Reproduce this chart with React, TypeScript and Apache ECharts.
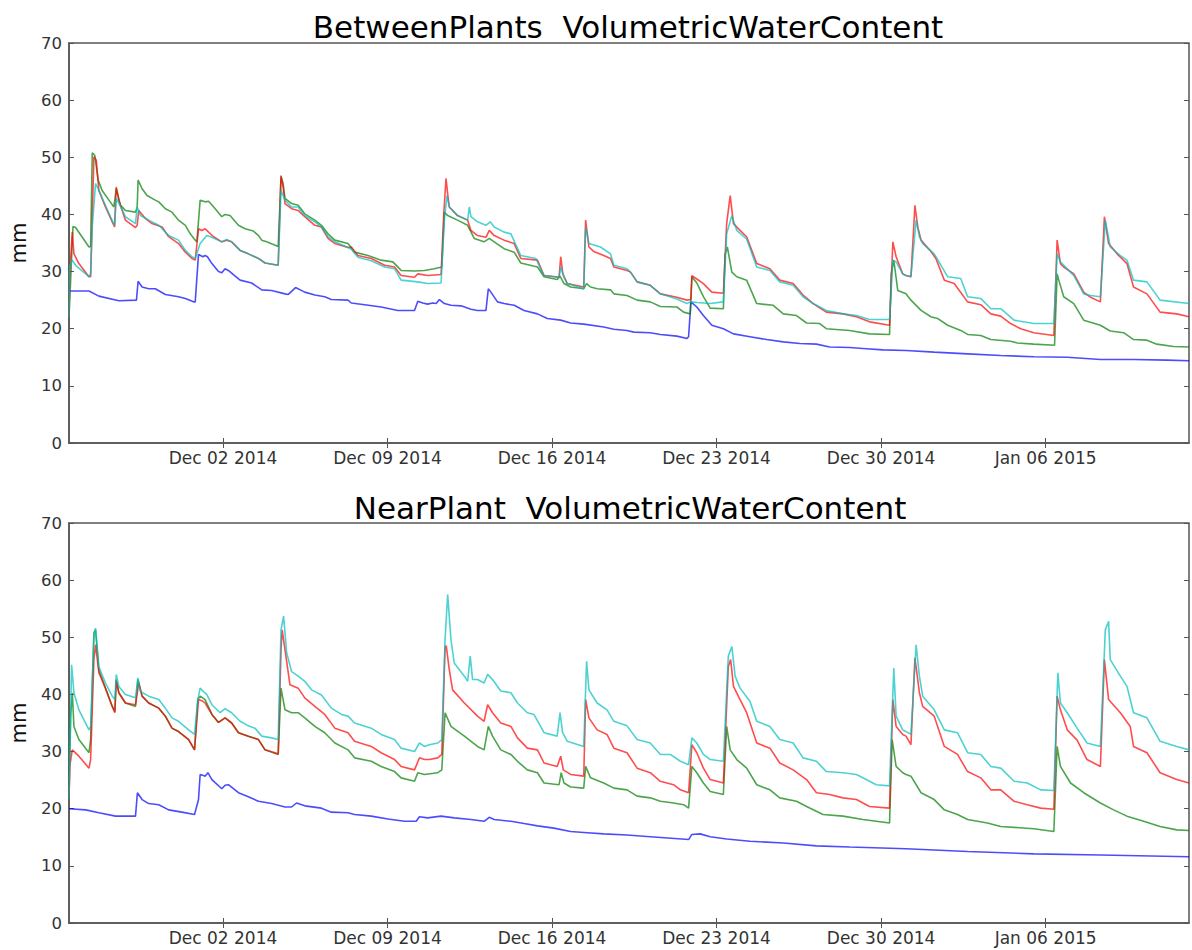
import React, { useEffect, useRef } from "react";
import * as echarts from "echarts";

// x values are days since Nov 25 2014 00:00
const xMin = 0.45;
const xMax = 48.1;
const xTickDays = [7, 14, 21, 28, 35, 42];
const xTickLabels = ["Dec 02 2014", "Dec 09 2014", "Dec 16 2014", "Dec 23 2014", "Dec 30 2014", "Jan 06 2015"];
const yTicks = [0, 10, 20, 30, 40, 50, 60, 70];

const titles = ["BetweenPlants  VolumetricWaterContent", "NearPlant  VolumetricWaterContent"];
const yLabel = "mm";

const topBlue = [[0.45,26.6],[1.30,26.6],[1.72,25.7],[2.57,24.9],[3.32,25.0],[3.39,28.3],[3.56,27.3],[3.84,27.0],[4.12,27.0],[4.55,26.0],[5.11,25.6],[5.40,25.3],[5.75,24.7],[5.82,24.7],[5.96,33.0],[6.15,32.6],[6.24,32.8],[6.34,32.6],[6.53,31.4],[6.81,30.0],[6.95,29.8],[7.09,30.5],[7.23,30.2],[7.52,29.2],[7.73,28.5],[8.22,28.0],[8.65,26.8],[9.07,26.7],[9.64,26.1],[9.78,26.0],[10.09,27.2],[10.48,26.4],[10.91,25.9],[11.33,25.6],[11.61,25.1],[12.32,25.0],[12.46,24.5],[13.03,24.2],[13.73,23.8],[14.44,23.2],[15.15,23.2],[15.29,24.8],[15.50,24.5],[15.71,24.3],[15.92,24.5],[16.07,24.4],[16.21,25.1],[16.42,24.4],[16.70,24.1],[17.13,24.0],[17.55,23.4],[17.83,23.2],[18.19,23.2],[18.29,27.0],[18.40,26.4],[18.68,24.7],[18.96,24.4],[19.39,24.1],[19.81,23.2],[20.38,22.6],[20.80,21.8],[21.37,21.5],[21.79,21.0],[22.35,20.8],[23.20,20.3],[23.63,19.9],[24.19,19.7],[24.48,19.4],[25.18,19.3],[25.61,19.0],[26.31,18.7],[26.74,18.3],[26.81,18.6],[26.91,24.7],[27.16,23.8],[27.44,22.3],[27.80,20.6],[28.29,20.0],[28.72,19.1],[29.42,18.6],[30.13,18.1],[30.84,17.7],[31.54,17.4],[32.25,17.3],[32.81,16.8],[33.66,16.7],[34.37,16.5],[35.08,16.3],[36.06,16.2],[37.26,15.9],[38.68,15.6],[40.09,15.3],[41.50,15.1],[42.92,15.0],[44.33,14.6],[45.74,14.6],[47.16,14.5],[48.1,14.4]];

const topGreen = [[0.45,22.0],[0.62,37.9],[0.73,37.7],[1.30,34.3],[1.37,34.4],[1.44,50.8],[1.55,50.3],[1.69,46.0],[1.86,44.2],[2.15,42.5],[2.36,41.3],[2.46,44.5],[2.64,41.6],[2.85,40.7],[3.28,40.4],[3.35,41.3],[3.39,46.0],[3.56,44.5],[3.77,43.3],[4.12,42.5],[4.27,42.2],[4.55,41.0],[4.83,40.4],[5.11,39.0],[5.40,38.1],[5.61,36.6],[5.82,35.5],[5.89,35.2],[6.03,42.5],[6.24,42.2],[6.39,42.3],[6.67,41.0],[6.95,39.6],[7.09,40.0],[7.30,39.8],[7.66,38.1],[7.94,37.5],[8.29,37.1],[8.51,36.3],[8.65,35.5],[8.86,35.2],[9.35,34.4],[9.38,34.4],[9.47,46.6],[9.56,45.4],[9.64,42.8],[9.92,41.9],[10.20,41.6],[10.48,40.1],[10.91,39.0],[11.19,38.1],[11.47,36.6],[11.76,35.5],[12.32,34.9],[12.60,33.4],[13.17,32.8],[13.73,32.0],[14.23,31.7],[14.58,30.2],[15.15,30.1],[15.57,30.2],[15.99,30.5],[16.31,30.8],[16.42,40.4],[16.56,39.8],[16.98,39.0],[17.41,38.1],[17.69,35.8],[18.11,35.2],[18.33,35.8],[18.54,35.2],[18.96,34.0],[19.39,33.4],[19.67,31.5],[20.38,30.8],[20.66,29.1],[21.22,28.6],[21.34,29.2],[21.51,27.9],[21.79,27.3],[22.35,27.0],[22.47,27.9],[22.64,27.3],[22.92,27.0],[23.49,26.8],[23.63,26.1],[24.19,25.8],[24.62,25.0],[25.18,24.7],[25.61,23.9],[26.31,23.8],[26.60,22.9],[26.88,22.6],[26.95,29.1],[27.16,28.0],[27.44,25.6],[27.73,23.6],[28.29,23.5],[28.36,33.0],[28.46,34.3],[28.65,29.9],[28.86,29.1],[29.28,28.5],[29.71,24.4],[30.41,24.1],[30.84,22.6],[31.40,22.3],[31.83,21.0],[32.39,20.9],[32.67,20.0],[33.66,19.7],[34.51,19.1],[35.36,19.0],[35.43,29.6],[35.54,32.0],[35.71,26.7],[36.06,26.1],[36.27,25.0],[36.70,23.2],[37.12,22.1],[37.40,21.8],[37.83,20.6],[38.39,19.7],[38.68,19.0],[39.24,18.8],[39.67,18.1],[40.51,17.8],[40.80,17.5],[41.50,17.3],[42.38,17.1],[42.49,29.6],[42.56,28.5],[42.77,25.6],[43.20,24.4],[43.62,21.5],[44.33,20.6],[44.75,19.6],[45.32,19.3],[45.74,18.1],[46.31,18.0],[46.73,17.3],[47.44,16.9],[48.1,16.8]];

const topRed = [[0.45,22.0],[0.48,29.6],[0.59,36.9],[0.66,33.1],[0.87,31.4],[1.30,29.1],[1.37,29.1],[1.51,50.1],[1.61,49.5],[1.72,44.2],[2.00,41.3],[2.29,38.7],[2.39,37.8],[2.46,44.8],[2.57,42.5],[2.85,39.0],[3.28,37.7],[3.35,38.1],[3.42,40.7],[3.70,39.3],[3.98,38.4],[4.41,37.8],[4.69,36.1],[5.11,34.9],[5.40,33.4],[5.68,32.3],[5.82,32.0],[5.96,37.5],[6.10,37.2],[6.24,37.5],[6.39,36.9],[6.60,36.1],[6.95,35.2],[7.16,35.5],[7.37,35.2],[7.73,33.7],[8.08,33.1],[8.51,32.3],[8.79,31.5],[9.35,31.1],[9.38,31.1],[9.47,46.8],[9.56,44.8],[9.64,41.9],[9.92,41.0],[10.20,40.7],[10.48,39.6],[10.91,38.1],[11.19,37.8],[11.47,35.8],[11.76,34.9],[12.32,34.2],[12.46,34.3],[12.74,32.8],[13.31,32.3],[13.88,31.1],[14.30,30.8],[14.58,29.3],[15.15,29.0],[15.29,29.6],[15.71,29.3],[16.28,29.5],[16.39,39.8],[16.49,46.3],[16.56,43.6],[16.63,41.3],[16.98,39.8],[17.41,39.0],[17.55,37.2],[17.83,36.3],[18.19,36.0],[18.33,37.2],[18.54,36.3],[18.96,35.5],[19.39,34.9],[19.67,32.3],[20.38,32.0],[20.66,29.3],[21.30,29.0],[21.37,32.6],[21.46,29.6],[21.65,27.9],[22.35,27.3],[22.43,39.0],[22.57,34.3],[22.78,33.5],[23.20,32.8],[23.49,32.3],[23.63,30.8],[24.19,30.2],[24.34,29.9],[24.62,28.2],[25.18,27.6],[25.61,26.1],[26.31,25.5],[26.74,25.0],[26.91,25.1],[26.95,29.3],[27.16,28.7],[27.44,27.9],[27.80,26.4],[28.29,26.2],[28.43,38.4],[28.58,43.3],[28.72,38.4],[29.00,37.2],[29.28,36.1],[29.71,31.4],[30.27,30.5],[30.69,28.5],[31.26,27.9],[31.68,25.9],[32.11,24.4],[32.67,22.9],[33.38,22.6],[33.95,22.1],[34.51,21.2],[35.36,20.6],[35.50,35.2],[35.64,32.6],[35.92,29.6],[36.06,29.3],[36.27,29.1],[36.44,41.6],[36.56,37.8],[36.70,35.5],[37.12,33.5],[37.33,32.3],[37.69,28.5],[38.11,27.9],[38.68,24.7],[39.24,24.2],[39.67,22.6],[40.09,22.2],[40.51,20.9],[40.94,20.0],[41.50,19.3],[42.35,18.8],[42.49,35.5],[42.63,31.4],[42.77,30.8],[43.20,29.6],[43.62,26.4],[43.91,25.5],[44.33,24.7],[44.50,39.6],[44.68,34.9],[45.04,33.1],[45.46,31.4],[45.74,27.3],[46.31,26.1],[46.87,22.9],[47.58,22.6],[48.1,22.1]];

const topCyan = [[0.45,22.0],[0.48,31.0],[0.59,32.0],[0.73,31.1],[1.30,29.1],[1.37,29.6],[1.44,38.0],[1.58,45.4],[1.72,44.2],[2.00,41.6],[2.29,38.9],[2.39,38.1],[2.46,42.8],[2.57,42.0],[2.85,39.6],[3.28,38.4],[3.35,41.3],[3.49,39.8],[3.84,39.0],[4.27,38.1],[4.69,36.3],[5.11,35.5],[5.40,33.7],[5.68,32.6],[5.82,32.3],[6.03,34.9],[6.31,36.3],[6.53,36.0],[6.95,35.2],[7.16,35.6],[7.37,35.2],[7.73,33.7],[8.08,33.1],[8.51,32.3],[8.79,31.5],[9.35,31.1],[9.38,31.1],[9.47,44.2],[9.64,42.5],[9.92,41.3],[10.20,41.3],[10.48,39.8],[10.91,38.7],[11.19,37.8],[11.47,36.1],[11.76,35.2],[12.32,34.2],[12.46,33.9],[12.74,32.5],[13.31,31.9],[13.88,30.8],[14.30,30.5],[14.58,28.5],[15.29,28.2],[15.71,27.9],[16.28,28.0],[16.42,39.0],[16.53,43.3],[16.63,41.3],[16.98,39.8],[17.41,39.0],[17.48,41.3],[17.55,39.6],[17.83,38.7],[18.19,38.1],[18.37,38.7],[18.54,37.8],[18.96,36.9],[19.25,36.6],[19.67,32.8],[20.31,32.3],[20.66,29.3],[21.30,29.0],[21.37,30.8],[21.51,29.0],[21.65,27.9],[22.35,27.0],[22.43,37.8],[22.57,34.9],[23.06,34.3],[23.49,33.1],[23.63,31.1],[24.19,30.5],[24.34,29.9],[24.62,28.2],[25.18,27.6],[25.61,26.1],[26.31,25.2],[26.74,24.4],[26.91,24.7],[27.16,24.6],[27.73,24.4],[28.29,24.7],[28.43,36.6],[28.65,39.8],[28.86,37.2],[29.28,35.7],[29.71,30.8],[30.27,30.2],[30.69,28.2],[31.26,27.6],[31.68,25.6],[32.11,24.4],[32.67,23.2],[33.38,22.6],[33.95,22.3],[34.51,21.6],[35.36,21.6],[35.50,32.0],[35.64,31.7],[35.92,29.6],[36.06,29.3],[36.27,29.1],[36.49,39.0],[36.63,36.1],[36.77,34.9],[37.26,33.1],[37.83,29.1],[38.39,28.8],[38.68,25.6],[39.24,25.3],[39.67,23.5],[40.09,23.5],[40.66,21.5],[41.50,20.9],[42.35,20.9],[42.49,33.1],[42.63,31.7],[43.20,29.3],[43.62,26.1],[43.91,25.8],[44.33,25.6],[44.54,39.0],[44.75,34.3],[45.18,32.8],[45.46,32.0],[45.74,28.5],[46.31,28.2],[46.87,25.0],[48.1,24.4]];

const bottomBlue = [[0.45,20.0],[1.16,19.8],[1.72,19.3],[2.43,18.7],[3.28,18.7],[3.36,22.8],[3.56,21.6],[3.84,20.9],[4.27,20.7],[4.69,19.8],[5.25,19.4],[5.79,19.0],[5.96,21.6],[6.03,26.0],[6.17,25.8],[6.24,25.7],[6.36,26.3],[6.53,25.1],[6.95,23.5],[7.09,24.1],[7.23,24.2],[7.66,22.8],[8.08,22.1],[8.51,21.3],[9.07,20.9],[9.64,20.3],[9.92,20.3],[10.13,21.0],[10.48,20.5],[11.19,20.1],[11.61,19.4],[12.32,19.3],[12.60,19.0],[13.31,18.7],[14.02,18.2],[14.72,17.8],[15.22,17.8],[15.36,18.6],[15.71,18.4],[16.28,18.7],[16.84,18.4],[17.55,18.1],[18.11,17.8],[18.33,18.5],[18.54,18.1],[19.25,17.8],[19.81,17.4],[20.38,17.0],[21.08,16.6],[21.79,16.0],[22.50,15.8],[23.20,15.6],[24.19,15.4],[25.18,15.1],[26.81,14.6],[26.95,15.5],[27.30,15.6],[27.73,15.1],[28.43,14.7],[29.42,14.3],[30.84,14.0],[32.25,13.5],[33.66,13.3],[36.06,13.0],[38.68,12.5],[41.50,12.1],[44.33,11.9],[48.1,11.6]];

const bottomCyan = [[0.45,21.6],[0.56,45.2],[0.66,40.3],[0.87,37.3],[1.30,33.8],[1.37,34.4],[1.51,50.2],[1.58,51.6],[1.72,44.9],[2.00,42.0],[2.29,39.7],[2.40,39.1],[2.46,43.5],[2.57,41.4],[2.85,40.0],[3.28,39.4],[3.38,42.9],[3.49,40.5],[3.84,39.7],[4.27,39.1],[4.55,37.6],[4.83,35.9],[5.11,35.3],[5.54,33.8],[5.79,33.0],[5.93,39.1],[6.03,41.1],[6.17,40.5],[6.31,40.0],[6.53,38.2],[6.88,36.8],[7.09,37.5],[7.37,36.8],[7.73,35.3],[8.08,34.5],[8.36,34.1],[8.65,32.7],[9.07,32.4],[9.35,32.1],[9.47,51.3],[9.58,53.7],[9.71,47.3],[9.92,44.0],[10.20,43.2],[10.48,42.3],[10.77,40.8],[11.19,39.9],[11.61,37.6],[12.04,36.5],[12.32,36.2],[12.60,35.0],[13.31,34.1],[13.73,33.0],[14.30,32.1],[14.58,30.6],[15.15,30.0],[15.36,31.5],[15.57,30.9],[15.78,31.2],[16.14,31.5],[16.31,32.1],[16.45,49.6],[16.56,57.5],[16.70,49.6],[16.84,45.5],[17.27,43.2],[17.41,42.3],[17.52,46.7],[17.62,42.6],[17.83,42.6],[18.11,42.0],[18.26,43.5],[18.47,42.6],[18.82,40.6],[19.25,40.3],[19.53,38.5],[19.95,36.8],[20.23,36.5],[20.66,33.3],[21.22,32.7],[21.34,36.8],[21.45,33.3],[21.65,31.8],[22.35,30.9],[22.47,45.8],[22.57,40.8],[22.92,38.5],[23.34,37.3],[23.63,35.3],[24.19,34.5],[24.62,32.1],[25.18,31.5],[25.61,29.5],[26.03,29.5],[26.46,28.3],[26.81,27.7],[26.95,32.4],[27.16,31.5],[27.44,29.5],[27.73,28.6],[28.29,28.3],[28.50,46.7],[28.65,48.4],[28.79,43.2],[29.00,41.1],[29.42,38.8],[29.71,35.3],[30.27,34.4],[30.69,32.1],[31.26,31.5],[31.68,28.9],[32.25,28.3],[32.67,26.5],[33.38,26.3],[33.95,26.0],[34.37,25.1],[34.79,24.2],[35.36,24.0],[35.54,44.6],[35.64,36.2],[35.92,33.8],[36.06,33.5],[36.27,33.0],[36.49,48.7],[36.63,43.2],[36.77,39.7],[37.26,37.3],[37.69,33.8],[38.25,33.3],[38.68,29.8],[39.24,29.5],[39.67,27.4],[40.09,27.1],[40.66,24.8],[41.22,24.5],[41.79,23.3],[42.35,23.2],[42.52,43.8],[42.63,38.5],[42.92,36.8],[43.34,34.1],[43.76,31.5],[44.33,30.9],[44.54,51.3],[44.68,52.8],[44.75,46.1],[45.18,43.2],[45.46,41.4],[45.74,36.8],[46.31,35.9],[46.87,31.8],[47.58,30.9],[48.1,30.3]];

const bottomRed = [[0.45,21.6],[0.48,27.4],[0.59,30.3],[0.87,29.2],[1.30,27.1],[1.37,28.6],[1.51,46.1],[1.58,48.7],[1.72,43.8],[2.00,41.1],[2.29,37.9],[2.40,36.8],[2.46,42.6],[2.57,40.3],[2.85,38.5],[3.28,38.2],[3.42,42.0],[3.56,39.7],[3.84,38.5],[4.27,37.6],[4.55,36.2],[4.83,34.1],[5.11,33.5],[5.54,32.1],[5.79,30.3],[5.96,39.1],[6.15,38.8],[6.24,38.5],[6.53,36.5],[6.81,35.1],[7.09,35.9],[7.37,35.0],[7.66,33.3],[8.08,32.7],[8.51,32.1],[8.79,30.3],[9.35,29.6],[9.47,47.8],[9.52,51.3],[9.64,47.8],[9.85,41.7],[10.20,41.1],[10.48,39.4],[10.91,37.9],[11.33,36.5],[11.76,34.1],[12.32,33.3],[12.60,31.8],[13.31,30.9],[13.73,29.8],[14.30,28.6],[14.58,27.4],[15.15,26.8],[15.36,28.9],[15.57,28.6],[15.78,28.6],[16.14,28.9],[16.31,29.5],[16.45,48.4],[16.50,48.5],[16.63,44.3],[16.77,40.8],[17.27,38.5],[17.83,36.2],[18.11,35.3],[18.26,38.2],[18.47,36.8],[18.82,35.0],[19.25,34.4],[19.53,32.4],[19.95,30.6],[20.38,30.3],[20.66,28.0],[21.22,27.4],[21.37,29.2],[21.48,26.8],[21.79,26.0],[22.35,25.7],[22.43,39.1],[22.57,35.9],[22.92,33.8],[23.34,33.0],[23.63,30.6],[24.19,29.8],[24.62,27.1],[25.18,26.3],[25.61,24.8],[26.17,24.2],[26.46,23.3],[26.81,22.8],[26.95,31.2],[27.16,29.8],[27.44,27.1],[27.73,25.1],[28.29,24.5],[28.50,44.9],[28.60,46.1],[28.72,41.4],[29.00,39.1],[29.28,36.8],[29.71,31.5],[30.27,30.6],[30.69,28.0],[31.26,26.8],[31.83,25.1],[32.25,22.8],[32.81,22.5],[33.38,21.9],[33.95,21.6],[34.51,20.4],[35.36,20.1],[35.50,39.1],[35.64,34.4],[35.92,33.0],[36.06,32.7],[36.27,31.2],[36.44,46.4],[36.63,40.3],[36.77,37.9],[37.26,36.2],[37.69,30.9],[38.25,29.5],[38.68,26.5],[39.24,25.4],[39.67,23.3],[40.09,23.3],[40.66,21.3],[41.22,20.7],[41.79,20.1],[42.35,19.9],[42.49,39.7],[42.63,37.3],[42.92,33.8],[43.34,32.0],[43.76,28.6],[44.33,27.4],[44.50,46.1],[44.68,39.1],[45.18,36.8],[45.60,34.4],[45.74,30.9],[46.31,29.8],[46.87,26.3],[47.58,25.1],[48.1,24.5]];

const bottomGreen = [[0.45,21.6],[0.52,36.2],[0.59,40.3],[0.66,34.4],[0.87,32.1],[1.30,29.8],[1.37,32.1],[1.51,50.8],[1.58,51.3],[1.72,44.3],[2.00,41.1],[2.29,37.9],[2.40,37.0],[2.46,42.3],[2.57,40.3],[2.85,38.5],[3.28,37.9],[3.38,42.6],[3.56,39.7],[3.84,38.5],[4.27,37.6],[4.55,36.2],[4.83,34.1],[5.11,33.5],[5.54,32.1],[5.79,30.3],[5.93,39.1],[6.03,39.7],[6.24,39.1],[6.53,36.5],[6.81,35.1],[7.09,35.9],[7.37,35.0],[7.66,33.3],[8.08,32.7],[8.51,32.1],[8.79,30.3],[9.35,29.5],[9.47,41.1],[9.64,37.3],[9.92,36.8],[10.20,36.8],[10.48,35.9],[10.91,34.4],[11.33,33.3],[11.76,31.5],[12.32,30.3],[12.60,28.9],[13.31,28.3],[13.73,27.4],[14.30,26.5],[14.58,25.4],[15.15,24.8],[15.29,26.3],[15.57,26.0],[16.14,26.3],[16.31,26.8],[16.45,36.8],[16.70,34.4],[17.27,32.7],[17.83,30.9],[18.11,30.3],[18.29,34.4],[18.47,32.7],[18.82,30.3],[19.25,29.5],[19.53,28.3],[19.95,26.8],[20.38,26.3],[20.66,24.5],[21.30,24.2],[21.39,26.3],[21.51,24.5],[21.79,23.8],[22.35,23.6],[22.43,27.4],[22.64,25.4],[23.20,24.5],[23.63,23.6],[24.19,23.3],[24.62,22.2],[25.18,21.9],[25.61,21.3],[26.17,21.0],[26.60,20.7],[26.81,20.1],[26.95,27.4],[27.16,26.3],[27.44,24.5],[27.73,23.0],[28.29,22.5],[28.43,34.4],[28.58,30.3],[28.86,28.6],[29.28,27.1],[29.71,24.2],[30.27,23.3],[30.69,21.9],[31.40,21.3],[31.83,20.4],[32.53,19.0],[33.38,18.7],[34.23,18.1],[35.36,17.5],[35.47,32.1],[35.64,27.4],[35.92,26.3],[36.06,26.0],[36.27,25.7],[36.70,22.8],[37.26,21.6],[37.69,19.8],[38.25,19.0],[38.68,18.1],[39.52,17.5],[40.09,16.9],[41.50,16.5],[42.35,16.0],[42.49,30.9],[42.63,27.4],[43.06,24.5],[43.62,22.8],[44.33,21.0],[44.89,19.8],[45.46,18.7],[46.17,17.8],[46.87,16.9],[47.58,16.3],[48.1,16.2]];

const COLORS = { blue: "#0000ff", green: "#007f00", red: "#ff0000", cyan: "#00bfbf" };
const FONT = "DejaVu Sans";

const GRID_LEFT = 65;
const GRID_W = 1124;
const GRID_H = 400;
const GRID_TOPS = [43, 523];

export default function App() {
  const ref = useRef<HTMLDivElement>(null);

  useEffect(() => {
    if (!ref.current) return;
    const chart = echarts.init(ref.current, null, { renderer: "svg" });

    const grids = GRID_TOPS.map((top) => ({
      left: GRID_LEFT,
      top,
      width: GRID_W,
      height: GRID_H,
      show: true,
      borderColor: "#555",
      borderWidth: 1.5,
      backgroundColor: "transparent",
      containLabel: false,
    }));

    const xAxes: any[] = [];
    const yAxes: any[] = [];
    [0, 1].forEach((g) => {
      xAxes.push({
        type: "value",
        gridIndex: g,
        position: "bottom",
        min: xMin,
        max: xMax,
        axisLine: { show: true, lineStyle: { color: "#555", width: 1.5 } },
        axisTick: { show: true, inside: true, length: 5, customValues: xTickDays, lineStyle: { color: "#555" } },
        axisLabel: {
          show: true,
          customValues: xTickDays,
          formatter: (v: number) => {
            const i = xTickDays.indexOf(Math.round(v));
            return i >= 0 ? xTickLabels[i] : "";
          },
          fontFamily: FONT,
          fontSize: 17,
          color: "#333",
          margin: 6,
        },
        splitLine: { show: false },
      });
      xAxes.push({
        type: "value",
        gridIndex: g,
        position: "top",
        min: xMin,
        max: xMax,
        axisLine: { show: false },
        axisTick: { show: true, inside: true, length: 5, customValues: xTickDays, lineStyle: { color: "#555" } },
        axisLabel: { show: false },
        splitLine: { show: false },
      });
      yAxes.push({
        type: "value",
        gridIndex: g,
        position: "left",
        min: 0,
        max: 70,
        interval: 10,
        name: yLabel,
        nameLocation: "middle",
        nameGap: 40,
        nameRotate: 90,
        nameTextStyle: { fontFamily: FONT, fontSize: 21, color: "#111" },
        axisLine: { show: true, lineStyle: { color: "#555", width: 1.5 } },
        axisTick: { show: true, inside: true, length: 5, lineStyle: { color: "#555" } },
        axisLabel: {
          fontFamily: FONT,
          fontSize: 16.5,
          color: "#333",
          margin: 7,
          customValues: yTicks,
        },
        splitLine: { show: false },
      });
      yAxes.push({
        type: "value",
        gridIndex: g,
        position: "right",
        min: 0,
        max: 70,
        interval: 10,
        axisLine: { show: false },
        axisTick: { show: true, inside: true, length: 5, lineStyle: { color: "#555" } },
        axisLabel: { show: false },
        splitLine: { show: false },
      });
    });

    const mk = (data: number[][], color: string, g: number) => ({
      type: "line",
      data,
      xAxisIndex: g * 2,
      yAxisIndex: g * 2,
      showSymbol: false,
      symbol: "none",
      silent: true,
      lineStyle: { color, width: 1.6, opacity: 0.7 },
      z: 2,
    });

    chart.setOption({
      animation: false,
      grid: grids,
      xAxis: xAxes,
      yAxis: yAxes,
      graphic: [
        {
          type: "text",
          x: 628,
          y: 27,
          style: { text: titles[0], fontFamily: FONT, fontSize: 31, fill: "#000", align: "center", verticalAlign: "middle" },
        },
        {
          type: "text",
          x: 630,
          y: 508,
          style: { text: titles[1], fontFamily: FONT, fontSize: 31, fill: "#000", align: "center", verticalAlign: "middle" },
        },
      ],
      series: [
        mk(topBlue, COLORS.blue, 0),
        mk(topGreen, COLORS.green, 0),
        mk(topRed, COLORS.red, 0),
        mk(topCyan, COLORS.cyan, 0),
        mk(bottomBlue, COLORS.blue, 1),
        mk(bottomGreen, COLORS.green, 1),
        mk(bottomRed, COLORS.red, 1),
        mk(bottomCyan, COLORS.cyan, 1),
      ],
    });

    return () => chart.dispose();
  }, []);

  return (
    <div
      ref={ref}
      style={{ position: "absolute", left: 0, top: 0, width: 1192, height: 950, background: "#fff" }}
    />
  );
}
